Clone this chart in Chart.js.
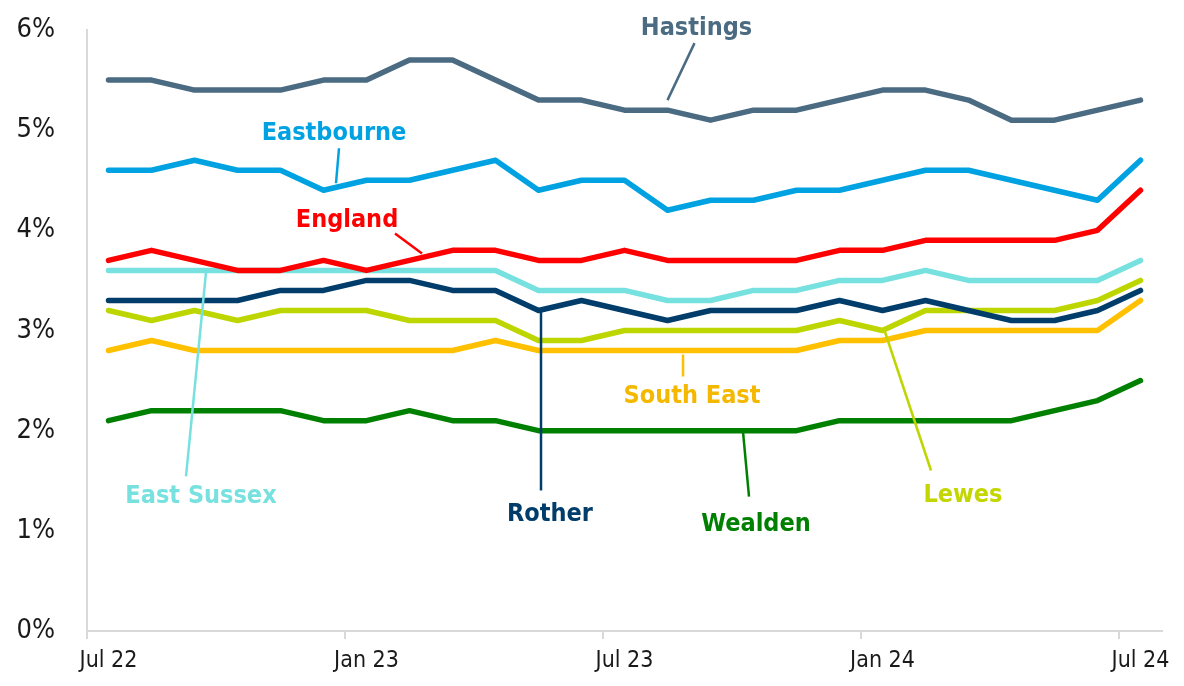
<!DOCTYPE html>
<html>
<head>
<meta charset="utf-8">
<script src="https://cdn.jsdelivr.net/npm/chart.js@4.4.1/dist/chart.umd.min.js"></script>
<style>
  html, body { margin: 0; padding: 0; background: #fff; }
  #wrap { width: 1184px; height: 686px; }
</style>
</head>
<body>
<div id="wrap"><canvas id="myChart" width="1184" height="686"></canvas></div>
<script>
const months = ['Jul 22', 'Aug 22', 'Sep 22', 'Oct 22', 'Nov 22', 'Dec 22',
                'Jan 23', 'Feb 23', 'Mar 23', 'Apr 23', 'May 23', 'Jun 23',
                'Jul 23', 'Aug 23', 'Sep 23', 'Oct 23', 'Nov 23', 'Dec 23',
                'Jan 24', 'Feb 24', 'Mar 24', 'Apr 24', 'May 24', 'Jun 24', 'Jul 24'];
const yTicks = [0, 1, 2, 3, 4, 5, 6];

const hastings   = [5.5, 5.5, 5.4, 5.4, 5.4, 5.5, 5.5, 5.7, 5.7, 5.5, 5.3, 5.3, 5.2, 5.2, 5.1, 5.2, 5.2, 5.3, 5.4, 5.4, 5.3, 5.1, 5.1, 5.2, 5.3];
const eastbourne = [4.6, 4.6, 4.7, 4.6, 4.6, 4.4, 4.5, 4.5, 4.6, 4.7, 4.4, 4.5, 4.5, 4.2, 4.3, 4.3, 4.4, 4.4, 4.5, 4.6, 4.6, 4.5, 4.4, 4.3, 4.7];
const england    = [3.7, 3.8, 3.7, 3.6, 3.6, 3.7, 3.6, 3.7, 3.8, 3.8, 3.7, 3.7, 3.8, 3.7, 3.7, 3.7, 3.7, 3.8, 3.8, 3.9, 3.9, 3.9, 3.9, 4.0, 4.4];
const eastSussex = [3.6, 3.6, 3.6, 3.6, 3.6, 3.6, 3.6, 3.6, 3.6, 3.6, 3.4, 3.4, 3.4, 3.3, 3.3, 3.4, 3.4, 3.5, 3.5, 3.6, 3.5, 3.5, 3.5, 3.5, 3.7];
const rother     = [3.3, 3.3, 3.3, 3.3, 3.4, 3.4, 3.5, 3.5, 3.4, 3.4, 3.2, 3.3, 3.2, 3.1, 3.2, 3.2, 3.2, 3.3, 3.2, 3.3, 3.2, 3.1, 3.1, 3.2, 3.4];
const lewes      = [3.2, 3.1, 3.2, 3.1, 3.2, 3.2, 3.2, 3.1, 3.1, 3.1, 2.9, 2.9, 3.0, 3.0, 3.0, 3.0, 3.0, 3.1, 3.0, 3.2, 3.2, 3.2, 3.2, 3.3, 3.5];
const southEast  = [2.8, 2.9, 2.8, 2.8, 2.8, 2.8, 2.8, 2.8, 2.8, 2.9, 2.8, 2.8, 2.8, 2.8, 2.8, 2.8, 2.8, 2.9, 2.9, 3.0, 3.0, 3.0, 3.0, 3.0, 3.3];
const wealden    = [2.1, 2.2, 2.2, 2.2, 2.2, 2.1, 2.1, 2.2, 2.1, 2.1, 2.0, 2.0, 2.0, 2.0, 2.0, 2.0, 2.0, 2.1, 2.1, 2.1, 2.1, 2.1, 2.2, 2.3, 2.5];

const FONT = '"DejaVu Sans Condensed", "DejaVu Sans", sans-serif';

// series: name, values, colour; first one is drawn on top
const series = [
  {name: 'England', data: england, color: '#ff0000'},
  {name: 'Hastings', data: hastings, color: '#4a6b82'},
  {name: 'Eastbourne', data: eastbourne, color: '#00a2e1'},
  {name: 'Rother', data: rother, color: '#003d6b'},
  {name: 'Lewes', data: lewes, color: '#bed600'},
  {name: 'South East', data: southEast, color: '#ffc000'},
  {name: 'East Sussex', data: eastSussex, color: '#76e1de'},
  {name: 'Wealden', data: wealden, color: '#008000'}
];

// labels hang off a point of their own series: leader from/to and text, as pixel offsets
const callouts = [
  {text: 'Hastings', data: hastings, i: 13, color: '#4a6b82', from: [0, -10], to: [27, -67], at: [29, -75]},
  {text: 'Eastbourne', data: eastbourne, i: 5, color: '#00a2e1', from: [12.5, -7], to: [15.5, -42], at: [10.5, -50]},
  {text: 'England', data: england, i: 7, color: '#ff0000', from: [12.5, -7], to: [-14.5, -27], at: [-62.5, -33]},
  {text: 'East Sussex', data: eastSussex, i: 2, color: '#76e1de', from: [11.5, 2], to: [-8.5, 206], at: [6.5, 233]},
  {text: 'Rother', data: rother, i: 10, color: '#003d6b', from: [2.5, 0], to: [2.5, 180], at: [11.5, 211]},
  {text: 'South East', data: southEast, i: 13, color: '#ffc000', textColor: '#f5b800', from: [15.5, 4], to: [15.5, 26], at: [24.5, 52]},
  {text: 'Wealden', data: wealden, i: 15, color: '#008000', from: [-10.5, 1], to: [-4.5, 66], at: [2.5, 100]},
  {text: 'Lewes', data: lewes, i: 18, color: '#bed600', textColor: '#c3d600', from: [2.5, 1.5], to: [48.5, 140], at: [80.5, 171]}
];

const calloutPlugin = {
  id: 'callouts',
  afterDatasetsDraw(chart) {
    const {ctx, scales: {x, y}} = chart;
    ctx.save();
    callouts.forEach(c => {
      const px = x.getPixelForValue(c.i);
      const py = y.getPixelForValue(c.data[c.i]);
      ctx.strokeStyle = c.color;
      ctx.lineWidth = 2.5;
      ctx.beginPath();
      ctx.moveTo(px + c.from[0], py + c.from[1]);
      ctx.lineTo(px + c.to[0], py + c.to[1]);
      ctx.stroke();
      ctx.fillStyle = c.textColor || c.color;
      ctx.font = 'bold 25px ' + FONT;
      ctx.textAlign = 'center';
      ctx.textBaseline = 'alphabetic';
      ctx.fillText(c.text, px + c.at[0], py + c.at[1]);
    });
    ctx.restore();
  }
};

const ctx = document.getElementById('myChart');

new Chart(ctx, {
  type: 'line',
  data: {
    labels: months,
    datasets: series.map(s => ({
      label: s.name,
      data: s.data,
      borderColor: s.color,
      backgroundColor: s.color,
      borderWidth: 5.5,
      borderCapStyle: 'round',
      borderJoinStyle: 'round',
      pointRadius: 0,
      fill: false,
      tension: 0
    }))
  },
  options: {
    responsive: false,
    animation: false,
    layout: {padding: {top: 30, right: 22, left: 0, bottom: 0}},
    plugins: {legend: {display: false}, tooltip: {enabled: false}},
    scales: {
      x: {
        offset: true,
        afterFit(scale) { scale.height = 55; },
        grid: {
          offset: true,
          drawOnChartArea: false,
          drawTicks: true,
          tickLength: 8,
          lineWidth: 2,
          color: c => (c.index !== undefined && c.index % 6 === 0) ? '#d9d9d9' : 'rgba(0,0,0,0)'
        },
        border: {display: true, color: '#d9d9d9', width: 2},
        ticks: {
          autoSkip: false,
          maxRotation: 0,
          padding: 8,
          color: '#1a1a1a',
          font: {family: FONT, size: 23},
          callback(v, i) { return i % 6 === 0 ? months[i] : ''; }
        }
      },
      y: {
        min: yTicks[0],
        max: yTicks[yTicks.length - 1],
        afterFit(scale) {
          scale.width = 87;
          scale.paddingTop = 0;
          scale.paddingBottom = 0;
        },
        afterBuildTicks(scale) { scale.ticks = yTicks.map(v => ({value: v})); },
        grid: {display: false, drawTicks: false},
        border: {display: true, color: '#d9d9d9', width: 2},
        ticks: {
          padding: 32,
          color: '#1a1a1a',
          font: {family: FONT, size: 27},
          callback: v => v + '%'
        }
      }
    }
  },
  plugins: [calloutPlugin]
});
</script>
</body>
</html>
